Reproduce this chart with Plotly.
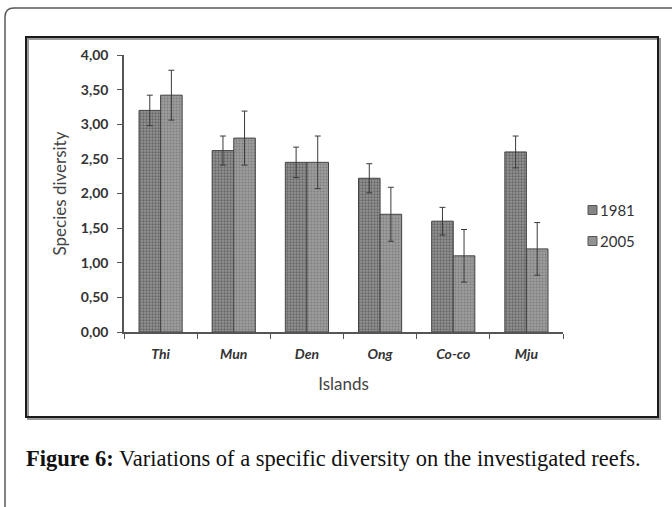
import plotly.graph_objects as go

islands = ["Thi", "Mun", "Den", "Ong", "Co-co", "Mju"]
vals_1981 = [3.20, 2.62, 2.45, 2.22, 1.60, 2.60]
err_1981 = [0.22, 0.21, 0.22, 0.21, 0.20, 0.23]
vals_2005 = [3.42, 2.80, 2.45, 1.70, 1.10, 1.20]
err_2005 = [0.36, 0.39, 0.38, 0.39, 0.38, 0.38]
series_names = ["1981", "2005"]
yticks = [0, 0.5, 1, 1.5, 2, 2.5, 3, 3.5, 4]
ytick_text = ["0,00", "0,50", "1,00", "1,50", "2,00", "2,50", "3,00", "3,50", "4,00"]

W, H = 672, 507
PL, PR, PT, PB = 124, 563, 55, 332


def px(x):
    return (x - PL) / (PR - PL)


def py(y):
    return (PB - y) / (PB - PT)


fills = ["#858585", "#929292"]

fig = go.Figure()
fig.add_trace(go.Bar(
    name=series_names[0], x=islands, y=vals_1981, showlegend=False,
    marker=dict(color=fills[0], line=dict(color="#444444", width=1),
                pattern=dict(shape=".", fgcolor="#3a3a3a", bgcolor="#949494", size=3, solidity=0.45)),
    error_y=dict(type="data", array=err_1981, color="#3a3a3a", thickness=1, width=3),
))
fig.add_trace(go.Bar(
    name=series_names[1], x=islands, y=vals_2005, showlegend=False,
    marker=dict(color=fills[1], line=dict(color="#444444", width=1),
                pattern=dict(shape=".", fgcolor="#606060", bgcolor="#9c9c9c", size=3, solidity=0.35)),
    error_y=dict(type="data", array=err_2005, color="#3a3a3a", thickness=1, width=3),
))

shapes = [
    dict(type="path", xref="paper", yref="paper",
         path=f"M {px(5)} {py(507)} L {px(5)} {py(17)} Q {px(5)} {py(8)} {px(14)} {py(8)} L {px(672)} {py(8)}",
         line=dict(color="#5a5a5a", width=1.5)),
    dict(type="rect", xref="paper", yref="paper",
         x0=px(28), x1=px(660), y0=py(419), y1=py(39),
         line=dict(color="#9a9a9a", width=2)),
    dict(type="rect", xref="paper", yref="paper",
         x0=px(26), x1=px(658), y0=py(417), y1=py(37),
         line=dict(color="#1a1a1a", width=2)),
]

annotations = [
    dict(text="<b>Figure 6:</b> Variations of a specific diversity on the investigated reefs.",
         xref="paper", yref="paper", x=px(24), y=py(458), xanchor="left", yanchor="middle",
         showarrow=False, font=dict(family="Liberation Serif", size=22.5, color="#111")),
]

# legend drawn as small squares + text
for i, (name, yc) in enumerate(zip(series_names, [210, 241])):
    shapes.append(dict(type="rect", xref="paper", yref="paper",
                       x0=px(588), x1=px(597), y0=py(yc + 4.5), y1=py(yc - 4.5),
                       fillcolor=fills[i], line=dict(color="#555", width=1)))
    annotations.append(dict(text=name, xref="paper", yref="paper", x=px(598), y=py(yc),
                            xanchor="left", yanchor="middle", showarrow=False,
                            font=dict(family="Lato", size=15, color="#333")))

fig.update_layout(
    width=W, height=H,
    margin=dict(l=PL, r=W - PR, t=PT, b=H - PB),
    paper_bgcolor="white", plot_bgcolor="white",
    barmode="group", bargap=0.41, bargroupgap=0,
    shapes=shapes, annotations=annotations,
    showlegend=False,
    font=dict(family="Lato", color="#333"),
)
fig.update_xaxes(
    showline=True, linecolor="#555", linewidth=1.5,
    ticks="outside", ticklen=5, tickcolor="#555", tickson="boundaries",
    ticklabelstandoff=8,
    tickfont=dict(family="Lato", size=14, color="#333", weight="bold", style="italic"),
    title=dict(text="Islands", font=dict(family="Lato", size=17, color="#444"), standoff=18),
    showgrid=False,
)
fig.update_yaxes(
    range=[0, 4], tickvals=yticks, ticktext=ytick_text,
    showline=True, linecolor="#555", linewidth=1.5,
    ticks="outside", ticklen=5, tickcolor="#555",
    ticklabelstandoff=6,
    tickfont=dict(family="Lato", size=14, color="#333", weight="bold"),
    title=dict(text="Species diversity", font=dict(family="Lato", size=17, color="#444"), standoff=10),
    showgrid=False, zeroline=False,
)

fig.write_html("out.html")
